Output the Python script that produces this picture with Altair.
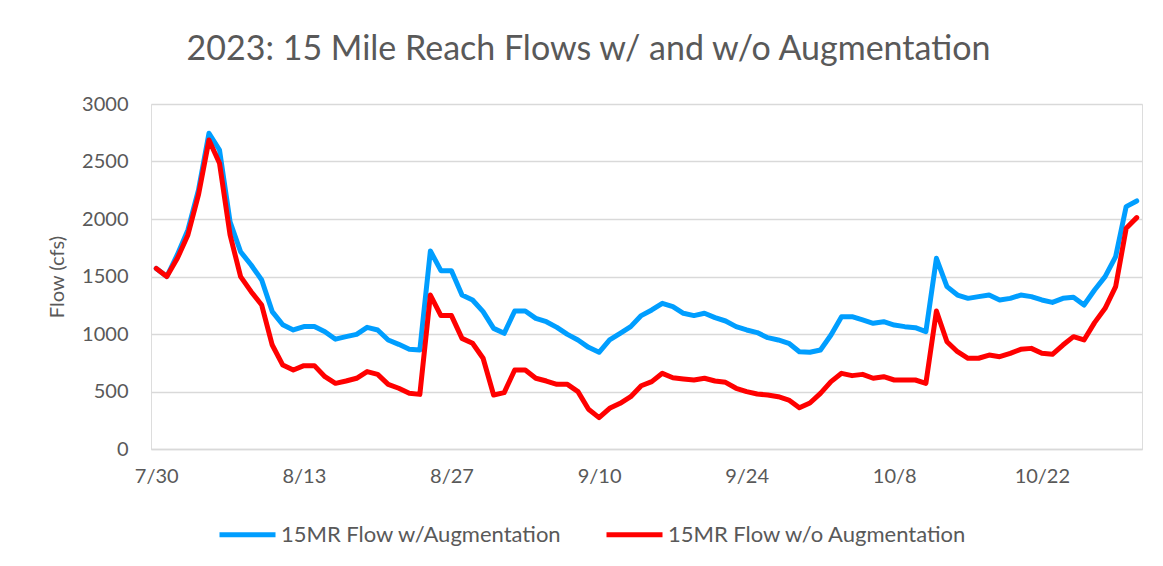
import altair as alt
import pandas as pd

start_date = "2023-07-30"
n_days = 94

with_aug = [1570, 1500, 1690, 1905, 2250, 2745, 2600, 1975, 1715, 1600,
            1470, 1195, 1080, 1035, 1065, 1065, 1020, 955, 977, 997,
            1058, 1035, 948, 910, 867, 861, 1722, 1551, 1551, 1339,
            1296, 1194, 1049, 1006, 1200, 1200, 1136, 1107, 1058, 997,
            948, 884, 841, 948, 1006, 1064, 1160, 1209, 1267, 1238,
            1180, 1160, 1180, 1142, 1113, 1064, 1035, 1012, 968, 948,
            919, 846, 841, 861, 991, 1151, 1151, 1122, 1093, 1107,
            1078, 1064, 1055, 1020, 1658, 1412, 1339, 1310, 1325, 1339,
            1296, 1310, 1339, 1325, 1296, 1275, 1310, 1319, 1252, 1383,
            1499, 1673, 2108, 2157]

without_aug = [1570, 1500, 1658, 1861, 2209, 2687, 2484, 1861, 1499, 1368,
               1252, 904, 730, 687, 725, 725, 629, 571, 591, 615,
               673, 649, 562, 528, 484, 475, 1339, 1160, 1160, 962,
               919, 789, 470, 490, 687, 687, 615, 591, 562, 562,
               499, 345, 273, 354, 397, 455, 550, 586, 658, 620,
               609, 600, 615, 591, 580, 528, 499, 478, 470, 455,
               426, 359, 400, 484, 586, 658, 638, 649, 615, 629,
               600, 600, 600, 571, 1200, 933, 846, 789, 789, 817,
               803, 832, 867, 875, 832, 823, 904, 977, 948, 1099,
               1223, 1412, 1919, 2012]

series_names = ["15MR Flow w/Augmentation", "15MR Flow w/o Augmentation"]
series_colors = ["#009EFF", "#FF0000"]
y_ticks = [0, 500, 1000, 1500, 2000, 2500, 3000]
x_tick_dates = [(7, 30), (8, 13), (8, 27), (9, 10), (9, 24), (10, 8), (10, 22)]

dates = pd.date_range(start_date, periods=n_days, freq="D").strftime("%Y-%m-%dT00:00:00")
df = pd.concat([
    pd.DataFrame({"date": dates, "flow": with_aug, "series": series_names[0]}),
    pd.DataFrame({"date": dates, "flow": without_aug, "series": series_names[1]}),
], ignore_index=True)

FONT = "Lato"
GRAY = "#595959"

x_enc = alt.X(
    "date:T",
    scale=alt.Scale(domain=[alt.DateTime(year=2023, month=7, date=29, hours=12),
                            alt.DateTime(year=2023, month=10, date=31, hours=12)]),
    axis=alt.Axis(
        values=[alt.DateTime(year=2023, month=m, date=d) for m, d in x_tick_dates],
        format="%-m/%-d", title=None, grid=False, ticks=False,
        domainColor="#D9D9D9", domainWidth=1.5,
        labelFont=FONT, labelFontSize=20, labelColor=GRAY, labelPadding=17,
    ),
)
y_enc = alt.Y(
    "flow:Q",
    scale=alt.Scale(domain=[0, 3000]),
    axis=alt.Axis(
        values=y_ticks, format="d", title="Flow (cfs)", grid=True, gridColor="#D9D9D9", gridWidth=1.5,
        domain=False, ticks=False,
        labelFont=FONT, labelFontSize=20, labelColor=GRAY, labelPadding=23,
        titleFont=FONT, titleFontSize=20, titleColor=GRAY, titleFontWeight="normal",
        titleX=-94, titleY=172.5, titleAngle=270, titleAlign="center", titleBaseline="middle",
    ),
)
color_enc = alt.Color(
    "series:N",
    scale=alt.Scale(domain=series_names, range=series_colors),
    legend=alt.Legend(
        title=None, orient="none", direction="horizontal", legendX=66, legendY=400,
        symbolType="stroke", symbolSize=3136, symbolStrokeWidth=5,
        labelFont=FONT, labelFontSize=22, labelColor=GRAY, labelOffset=3, labelLimit=0,
        columnPadding=34, padding=0,
    ),
)

base = alt.Chart(df).mark_line(strokeWidth=5, strokeJoin="round", strokeCap="round")
blue = base.transform_filter(alt.datum.series == series_names[0]).encode(x=x_enc, y=y_enc, color=color_enc)
red = base.transform_filter(alt.datum.series == series_names[1]).encode(x=x_enc, y=y_enc, color=color_enc)

chart = alt.layer(blue, red).properties(
    width=991, height=345,
    title=alt.TitleParams(
        "2023: 15 Mile Reach Flows w/ and w/o Augmentation",
        font=FONT, fontSize=34, fontWeight="normal", color=GRAY,
        anchor="middle", frame="group", dx=-58, offset=0, baseline="alphabetic",
    ),
    autosize=alt.AutoSizeParams(type="none"),
    padding={"left": 143, "top": 96, "right": 13, "bottom": 110},
).configure_view(stroke=None).configure(background="white")

chart.save("out.html", embed_options={"renderer": "svg", "actions": False})
